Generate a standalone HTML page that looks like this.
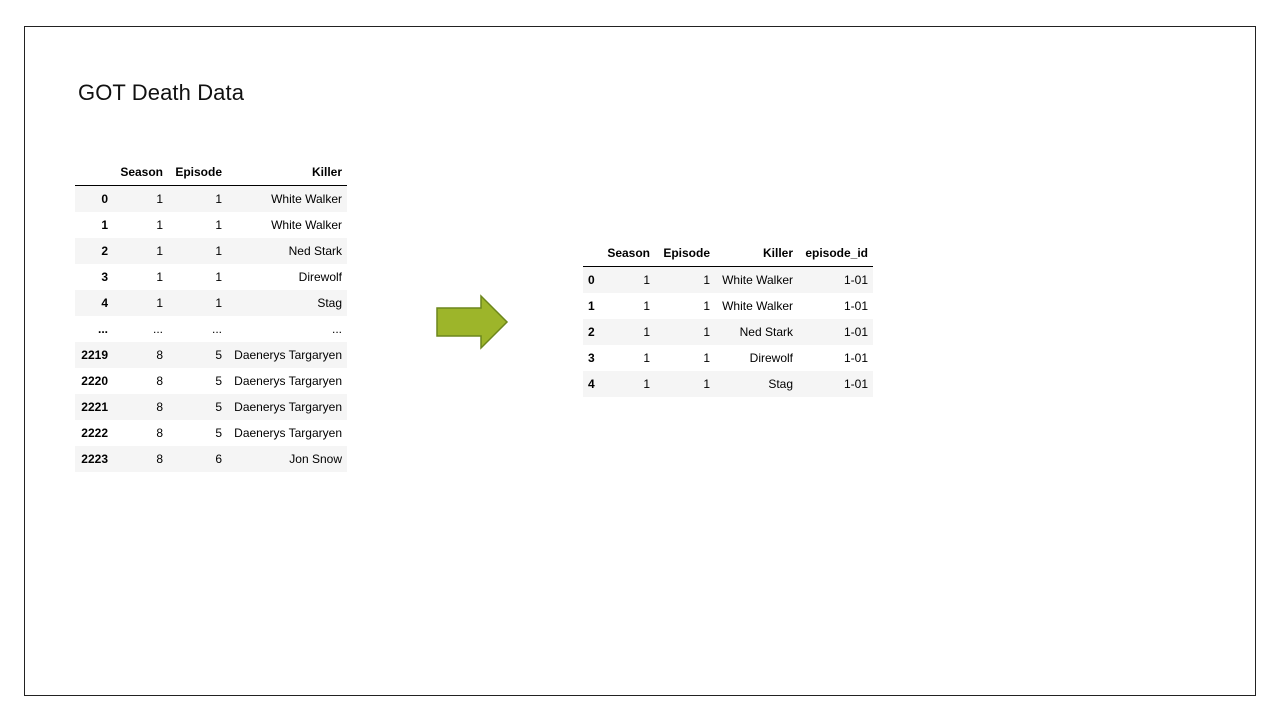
<!DOCTYPE html>
<html><head><style>
body{margin:0;width:1280px;height:720px;background:#fff;position:relative;overflow:hidden;font-family:"Liberation Sans",Arial,sans-serif}
.frame{position:absolute;left:24px;top:26px;width:1230px;height:668px;border:1px solid #222}
.r{position:absolute;height:26px}
.c{position:absolute;top:0;line-height:26px;text-align:right;font-size:12px}
.h{font-weight:bold}
</style></head><body>
<div class="frame"></div>
<div style="position:absolute;left:78px;top:80px;font-size:22px;color:#111;letter-spacing:0.1px">GOT Death Data</div>

<div id="L"></div>
<div id="R"></div>

<svg style="position:absolute;left:0;top:0" width="1280" height="720">
<polygon points="437,308 481,308 481,296 507,322 481,348 481,336 437,336" fill="#9db52a" stroke="#6c861c" stroke-width="1.5"/>
</svg>

<script>
function tbl(el,x0,w,lineY,heads,cols,rows,stripes,idxLeft){
  let h='';
  h+=`<div style="position:absolute;left:${x0}px;top:${lineY}px;width:${w}px;height:1px;background:#000"></div>`;
  heads.forEach((t,i)=>{h+=`<div class="c h" style="top:${lineY-26}px;right:${1280-cols[i+1]}px">${t}</div>`});
  rows.forEach((r,ri)=>{
    const y=lineY+1+ri*26;
    const bg=stripes[ri]?'#f5f5f5':'#fff';
    h+=`<div class="r" style="left:${x0}px;top:${y}px;width:${w}px;background:${bg}"></div>`;
    r.forEach((t,i)=>{
      if(i==0&&idxLeft) h+=`<div class="c h" style="top:${y}px;left:${idxLeft}px;text-align:left">${t}</div>`;
      else h+=`<div class="c${i==0?' h':''}" style="top:${y}px;right:${1280-cols[i]}px">${t}</div>`;
    });
  });
  document.getElementById(el).innerHTML=h;
}
const W='White Walker',D='Daenerys Targaryen';
tbl('L',75,272,185,['Season','Episode','Killer'],[108,163,222,342],
[['0',1,1,W],['1',1,1,W],['2',1,1,'Ned Stark'],['3',1,1,'Direwolf'],['4',1,1,'Stag'],['...','...','...','...'],
['2219',8,5,D],['2220',8,5,D],['2221',8,5,D],['2222',8,5,D],['2223',8,6,'Jon Snow']],
[1,0,1,0,1,0,1,0,1,0,1]);
tbl('R',583,290,266,['Season','Episode','Killer','episode_id'],[0,650,710,793,868],
[['0',1,1,W,'1-01'],['1',1,1,W,'1-01'],['2',1,1,'Ned Stark','1-01'],['3',1,1,'Direwolf','1-01'],['4',1,1,'Stag','1-01']],
[1,0,1,0,1],588);
</script>
</body></html>
